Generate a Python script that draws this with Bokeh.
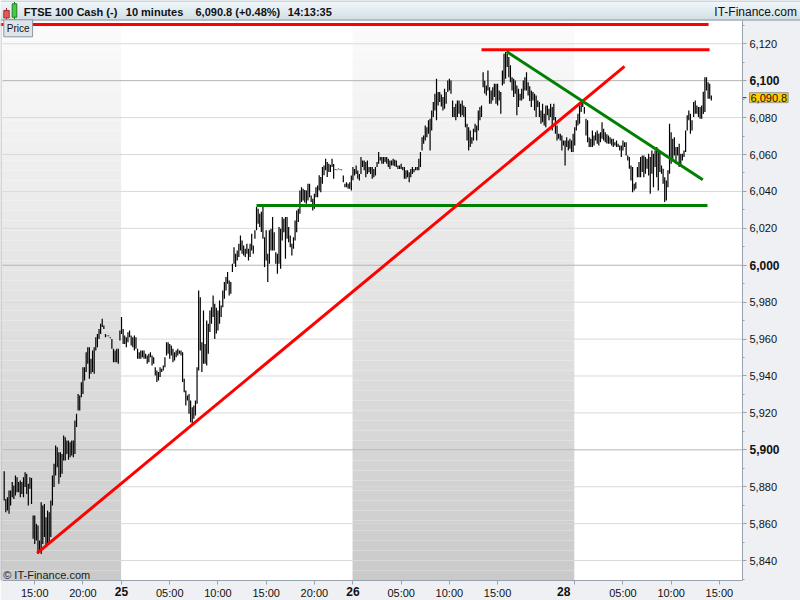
from bokeh.plotting import figure
from bokeh.models import (Range1d, FixedTicker, NumeralTickFormatter, Label, LinearAxis)
from bokeh.embed import file_html
from bokeh.resources import INLINE

# ---------------- data ----------------
instrument = "FTSE 100 Cash (-)"
interval_text = "10 minutes"
change_text = "6,090.8 (+0.48%)"
clock_text = "14:13:35"
last_close = 6090.8

day_labels = ["24", "25", "26", "28"]
day_bar_counts = [73, 144, 138, 86]
day_first_minute = [11 * 60 + 50, 0, 0, 0]
bar_minutes = 10
hour_ticks = [[15, 20], [5, 10, 15, 20], [5, 10, 15], [5, 10, 15]]
price_ticks = [5840, 5860, 5880, 5900, 5920, 5940, 5960, 5980, 6000, 6020, 6040, 6060,
               6080, 6100, 6120]
price_minor_ticks = [5830, 5850, 5870, 5890, 5910, 5930, 5950, 5970, 5990, 6010, 6030,
                     6050, 6070, 6090, 6110, 6130]
bold_price_levels = [5900, 6000, 6100]

high_d24 = [5888.4, 5873.4, 5874.3, 5877.9, 5877.9, 5882.5, 5880.7, 5886.1, 5885.2, 5882.5,
            5883.4, 5882.5, 5885.2, 5887.9, 5887.0, 5881.6, 5885.2, 5884.8, 5864.4, 5864.4,
            5859.9, 5859.0, 5850.9, 5871.6, 5869.8, 5870.7, 5863.5, 5867.1, 5866.2, 5872.5,
            5886.1, 5892.4, 5902.3, 5901.4, 5898.7, 5898.7, 5897.8, 5907.7, 5906.8, 5905.0,
            5905.0, 5904.1, 5905.0, 5905.0, 5915.9, 5919.5, 5930.3, 5929.4, 5936.6, 5944.8,
            5944.8, 5952.9, 5955.6, 5955.6, 5949.3, 5953.8, 5955.6, 5961.0, 5962.8, 5965.5,
            5968.3, 5971.0, 5967.4, 5962.8, 5962.0, 5962.0, 5961.0, 5960.1, 5954.7, 5953.8,
            5954.7, 5954.7, 5964.6]
low_d24 = [5872.5, 5866.2, 5867.1, 5865.3, 5869.8, 5874.3, 5873.4, 5875.2, 5877.0, 5877.0,
           5874.3, 5876.1, 5874.3, 5879.8, 5876.1, 5869.8, 5878.9, 5870.7, 5851.8, 5849.0,
           5850.9, 5843.6, 5845.4, 5843.6, 5849.0, 5852.7, 5847.2, 5849.0, 5849.0, 5852.7,
           5869.8, 5879.8, 5886.1, 5890.6, 5881.6, 5885.2, 5887.0, 5894.2, 5894.2, 5897.8,
           5894.6, 5896.0, 5896.9, 5896.0, 5897.8, 5912.3, 5921.3, 5921.3, 5928.5, 5930.3,
           5937.6, 5942.1, 5946.6, 5938.5, 5941.2, 5942.1, 5941.2, 5953.8, 5955.6, 5960.1,
           5962.8, 5966.5, 5965.5, 5961.0, 5961.5, 5961.5, 5960.5, 5954.7, 5947.5, 5947.5,
           5947.5, 5946.6, 5959.2]

high_d25 = [5971.9, 5965.5, 5961.9, 5961.0, 5963.7, 5964.6, 5961.9, 5961.0, 5961.9, 5961.0,
            5954.7, 5952.9, 5953.8, 5953.8, 5953.8, 5952.0, 5951.1, 5952.0, 5952.9, 5951.1,
            5950.2, 5944.8, 5943.0, 5942.1, 5944.8, 5943.9, 5945.7, 5950.2, 5958.3, 5958.3,
            5957.4, 5956.5, 5954.7, 5952.9, 5953.8, 5954.7, 5953.8, 5953.8, 5952.9, 5938.5,
            5932.1, 5929.4, 5930.3, 5926.7, 5923.1, 5924.0, 5926.7, 5944.8, 5986.3, 5982.7,
            5958.3, 5975.5, 5957.4, 5970.1, 5968.3, 5975.5, 5977.3, 5983.6, 5979.1, 5977.0,
            5975.5, 5980.9, 5978.2, 5986.3, 5990.9, 5993.6, 5996.3, 5991.8, 5990.9, 6000.8,
            6009.8, 6006.2, 6008.0, 6011.6, 6016.1, 6013.4, 6010.7, 6008.9, 6011.6, 6008.9,
            6011.6, 6017.0, 6010.7, 6018.9, 6031.5, 6030.6, 6027.9, 6029.0, 6032.4, 6015.2,
            6018.9, 6006.2, 6018.9, 6019.8, 6026.1, 6017.9, 6007.1, 6006.2, 6020.7, 6019.8,
            6026.1, 6025.2, 6026.1, 6026.1, 6020.7, 6016.1, 6011.6, 6015.2, 6024.3, 6029.7,
            6030.6, 6040.5, 6042.3, 6041.4, 6040.8, 6040.5, 6044.1, 6044.1, 6037.8, 6036.0,
            6038.7, 6042.3, 6043.2, 6048.7, 6047.8, 6053.2, 6054.1, 6057.7, 6055.9, 6055.0,
            6054.5, 6057.7, 6054.9, 6052.0, 6051.9, 6052.4, 6052.2, 6051.9, 6048.6, 6044.1,
            6045.0, 6044.1, 6045.0, 6048.6]
low_d25 = [5962.8, 5957.4, 5957.4, 5955.6, 5958.3, 5961.0, 5956.5, 5955.6, 5953.8, 5954.7,
           5949.3, 5949.3, 5949.3, 5950.2, 5949.3, 5949.3, 5946.6, 5947.5, 5950.2, 5945.7,
           5946.6, 5940.3, 5936.7, 5937.6, 5939.4, 5942.1, 5943.0, 5944.8, 5951.1, 5952.0,
           5949.3, 5951.1, 5947.5, 5948.4, 5950.2, 5951.1, 5952.0, 5951.1, 5936.7, 5931.2,
           5924.0, 5926.7, 5919.5, 5915.0, 5914.1, 5916.8, 5918.6, 5924.9, 5943.0, 5953.8,
           5942.1, 5946.6, 5946.6, 5945.7, 5952.0, 5963.8, 5968.3, 5971.9, 5960.1, 5963.0,
           5964.7, 5968.3, 5971.9, 5977.3, 5981.8, 5986.3, 5990.0, 5983.6, 5984.5, 5996.3,
           6000.8, 5999.0, 6002.6, 6004.4, 6008.0, 6006.2, 6005.3, 6004.4, 6006.2, 6002.6,
           6004.4, 6008.0, 6006.2, 6014.3, 6018.9, 6022.5, 6020.7, 6018.0, 6014.3, 5999.0,
           6002.6, 5990.9, 6000.8, 6008.0, 6008.0, 6008.0, 6000.8, 5995.4, 6000.8, 5998.1,
           6013.4, 6017.9, 6003.5, 6014.3, 6012.5, 6009.8, 6005.3, 6008.9, 6013.4, 6017.9,
           6023.4, 6027.9, 6034.2, 6035.1, 6034.0, 6033.3, 6035.1, 6036.9, 6034.2, 6029.7,
           6030.6, 6036.9, 6036.9, 6040.5, 6039.6, 6044.1, 6048.7, 6051.4, 6047.8, 6050.5,
           6050.5, 6053.2, 6046.8, 6051.6, 6051.5, 6052.0, 6051.8, 6051.5, 6045.0, 6042.3,
           6042.3, 6041.4, 6041.4, 6040.5]

high_d26 = [6053.2, 6052.2, 6054.0, 6051.3, 6049.5, 6058.6, 6056.8, 6056.8, 6055.9, 6056.8,
            6053.2, 6053.2, 6053.2, 6052.2, 6053.2, 6055.9, 6061.3, 6058.6, 6058.6, 6058.6,
            6058.6, 6058.6, 6057.7, 6056.8, 6056.8, 6057.7, 6057.2, 6056.8, 6054.1, 6054.1,
            6055.0, 6053.2, 6053.2, 6051.4, 6051.4, 6050.4, 6052.2, 6053.2, 6052.2, 6053.2,
            6053.2, 6057.7, 6061.3, 6069.4, 6070.3, 6075.7, 6074.8, 6078.5, 6079.4, 6083.9,
            6088.4, 6092.9, 6101.0, 6093.8, 6093.8, 6092.5, 6091.1, 6095.6, 6093.8, 6100.1,
            6101.0, 6100.1, 6089.3, 6085.7, 6087.5, 6089.3, 6089.3, 6087.5, 6089.3, 6086.6,
            6085.7, 6076.6, 6074.8, 6073.0, 6069.4, 6073.9, 6076.6, 6075.7, 6083.9, 6085.7,
            6086.6, 6104.6, 6100.0, 6097.4, 6105.5, 6096.5, 6094.7, 6096.5, 6098.3, 6098.3,
            6098.3, 6094.7, 6093.8, 6105.5, 6114.6, 6115.5, 6114.6, 6112.8, 6108.3, 6101.9,
            6101.0, 6100.1, 6097.4, 6095.6, 6092.9, 6095.6, 6100.1, 6101.9, 6104.6, 6099.2,
            6097.0, 6094.7, 6093.8, 6092.9, 6092.0, 6089.3, 6088.4, 6083.9, 6087.5, 6082.1,
            6086.6, 6086.6, 6084.8, 6087.5, 6085.7, 6087.5, 6080.3, 6075.7, 6071.2, 6071.2,
            6070.3, 6067.6, 6067.6, 6069.4, 6067.6, 6068.5, 6067.6, 6071.2]
low_d26 = [6046.0, 6048.6, 6049.5, 6046.8, 6045.9, 6049.5, 6053.2, 6051.4, 6047.7, 6049.5,
           6050.4, 6049.5, 6046.8, 6047.7, 6048.6, 6053.2, 6055.0, 6056.8, 6055.0, 6055.0,
           6055.9, 6055.0, 6053.2, 6052.2, 6054.1, 6054.1, 6053.6, 6053.2, 6052.2, 6052.2,
           6052.2, 6051.4, 6046.8, 6046.8, 6047.7, 6045.0, 6047.7, 6049.5, 6050.4, 6051.4,
           6051.4, 6051.4, 6053.2, 6062.2, 6065.8, 6067.6, 6069.4, 6071.2, 6062.2, 6073.0,
           6080.3, 6083.9, 6078.5, 6086.6, 6088.4, 6086.0, 6083.9, 6084.8, 6087.5, 6093.8,
           6094.7, 6092.9, 6080.3, 6080.3, 6078.5, 6080.3, 6082.1, 6080.3, 6081.2, 6080.3,
           6074.8, 6067.6, 6062.2, 6064.0, 6065.8, 6067.6, 6072.1, 6067.6, 6073.0, 6078.5,
           6080.3, 6096.5, 6093.0, 6092.0, 6094.7, 6087.5, 6087.5, 6089.3, 6091.1, 6087.5,
           6086.6, 6089.3, 6082.1, 6097.4, 6098.3, 6101.0, 6107.4, 6101.9, 6099.2, 6094.7,
           6091.1, 6092.9, 6081.2, 6085.7, 6089.3, 6089.3, 6090.2, 6094.7, 6094.7, 6092.0,
           6089.0, 6085.7, 6089.3, 6083.9, 6080.3, 6085.7, 6080.3, 6076.6, 6077.5, 6075.7,
           6074.8, 6081.2, 6078.5, 6080.3, 6073.0, 6078.5, 6071.2, 6067.6, 6068.5, 6067.6,
           6062.2, 6064.9, 6054.1, 6064.0, 6062.2, 6063.1, 6061.3, 6061.3]

high_d28 = [6074.8, 6078.5, 6082.1, 6086.6, 6089.3, 6088.4, 6085.7, 6079.4, 6078.5, 6069.4,
            6068.5, 6073.0, 6070.3, 6072.1, 6073.0, 6071.2, 6072.1, 6077.5, 6073.9, 6072.1,
            6071.0, 6070.3, 6069.4, 6068.5, 6068.5, 6066.7, 6067.6, 6065.8, 6064.9, 6064.9,
            6067.6, 6066.7, 6066.7, 6059.5, 6058.6, 6054.1, 6053.2, 6044.1, 6045.0, 6053.2,
            6056.0, 6058.6, 6059.5, 6059.5, 6058.6, 6057.7, 6060.4, 6058.6, 6062.2, 6060.4,
            6062.2, 6064.0, 6063.1, 6062.2, 6054.1, 6052.3, 6047.7, 6045.9, 6051.4, 6076.6,
            6072.0, 6068.5, 6069.4, 6064.0, 6064.0, 6065.8, 6060.4, 6060.4, 6062.2, 6073.0,
            6081.2, 6083.9, 6082.1, 6078.5, 6088.4, 6089.3, 6086.6, 6085.7, 6085.7, 6086.6,
            6094.0, 6101.9, 6101.9, 6099.2, 6098.3, 6092.0]
low_d28 = [6064.9, 6073.0, 6075.7, 6076.6, 6083.0, 6085.7, 6082.1, 6070.3, 6066.7, 6064.0,
           6064.0, 6064.0, 6064.9, 6067.6, 6065.8, 6064.9, 6066.7, 6068.5, 6067.6, 6066.7,
           6066.0, 6065.8, 6065.8, 6064.9, 6064.0, 6064.9, 6064.0, 6064.0, 6062.2, 6058.6,
           6062.2, 6064.0, 6059.5, 6056.8, 6052.3, 6045.9, 6039.6, 6040.5, 6041.4, 6047.7,
           6047.7, 6047.7, 6050.5, 6047.7, 6049.6, 6052.3, 6048.6, 6038.7, 6049.6, 6042.3,
           6053.2, 6047.7, 6040.5, 6050.5, 6049.6, 6044.1, 6034.2, 6035.1, 6042.3, 6049.6,
           6055.0, 6056.8, 6059.5, 6055.0, 6059.5, 6053.2, 6054.1, 6056.8, 6058.6, 6061.3,
           6073.0, 6078.5, 6071.2, 6073.0, 6080.3, 6082.1, 6082.1, 6080.3, 6079.4, 6079.4,
           6082.0, 6083.0, 6094.7, 6090.2, 6090.2, 6089.3]

# drawn trend lines: (bar index pair, price pair)
red_top_x, red_top_y = [-2.3, 438.3], [6130.5, 6130.5]
red_high_x, red_high_y = [297.0, 438.9], [6116.7, 6116.7]
red_diag_x, red_diag_y = [20.5, 386.0], [5844.0, 6107.7]
green_flat_x, green_flat_y = [157.0, 437.6], [6032.4, 6032.4]
green_diag_x, green_diag_y = [312.6, 434.7], [6115.8, 6046.3]

# ---------------- layout constants ----------------
W, H = 800, 600
AREA_L, AREA_R, AREA_T, AREA_B = 2, 742, 20, 580   # price area inside the page (px)
xs, xe = -1.06, 459.4        # bar-index window of the price area
ys, ye = 5829.2, 6132.6      # price window of the price area
sx = (AREA_R - AREA_L) / (xe - xs)
sy = (AREA_B - AREA_T) / (ye - ys)
X0, X1 = xs - AREA_L / sx, xe + (W - AREA_R) / sx
Y0, Y1 = ys - (H - AREA_B) / sy, ye + AREA_T / sy
FONT = "Liberation Sans"
AX_COL = "#98a3ad"
PANEL = "#eef0f3"
TXT = "#111111"


def xd(px):      # page px -> data x
    return X0 + px / sx


def yd(py):      # page py -> data y
    return Y1 - py / sy


def hexmix(c1, c2, t):
    a = [int(c1[i:i + 2], 16) for i in (1, 3, 5)]
    b = [int(c2[i:i + 2], 16) for i in (1, 3, 5)]
    return "#%02x%02x%02x" % tuple(int(round(a[k] + (b[k] - a[k]) * t)) for k in range(3))


highs = high_d24 + high_d25 + high_d26 + high_d28
lows = low_d24 + low_d25 + low_d26 + low_d28
idx = list(range(len(highs)))
day_start = [sum(day_bar_counts[:k]) for k in range(len(day_bar_counts))]

p = figure(width=W, height=H, x_range=Range1d(X0, X1), y_range=Range1d(Y0, Y1),
           output_backend="svg", toolbar_location=None, min_border=0,
           x_axis_location=None, y_axis_location=None, outline_line_color=None,
           background_fill_color="white", border_fill_color="white", title=None)
p.xgrid.visible = False
p.ygrid.visible = False

# alternate-day shading (vertical grey gradient)
ns = 56
for a, b in [(xs - 2, day_start[1] - 0.25), (day_start[2] - 0.25, day_start[3] - 0.25)]:
    tops = [ye - k * (ye - ys) / ns for k in range(ns)]
    bots = [ye - (k + 1) * (ye - ys) / ns for k in range(ns)]
    cols = [hexmix("#fbfbfb", "#cacaca", (k + 0.5) / ns) for k in range(ns)]
    r = p.quad(left=[a] * ns, right=[b] * ns, top=tops, bottom=bots, fill_color=cols,
               line_color=None)
    r.level = "image"

# horizontal grid lines at the price ticks (hundreds darker)
g = p.segment(x0=[xs] * len(price_ticks), x1=[xe] * len(price_ticks), y0=price_ticks,
              y1=price_ticks,
              line_color=["#b3b3b3" if v in bold_price_levels else "#d9d9d9" for v in price_ticks],
              line_width=1)
g.level = "underlay"

# OHLC bars (high-low)
p.segment(x0=idx, y0=lows, x1=idx, y1=highs, line_color="black", line_width=1.2)

# trend lines
for lx, ly, col in [(red_top_x, red_top_y, "#ff0000"), (red_high_x, red_high_y, "#ff0000"),
                    (green_flat_x, green_flat_y, "#008000"), (red_diag_x, red_diag_y, "#ff0000"),
                    (green_diag_x, green_diag_y, "#008000")]:
    p.line(lx, ly, line_color=col, line_width=3)

# axis panels (right + bottom) and left edge
p.quad(left=[xd(AREA_R), xd(0), xd(0)], right=[xd(W), xd(W), xd(1)],
       top=[yd(AREA_T), yd(AREA_B), yd(AREA_T)], bottom=[yd(H), yd(H), yd(AREA_B)],
       fill_color=[PANEL, PANEL, "#b4bdc5"], line_color=None)

# header bar (gradient, borders, icon, texts)
nh = AREA_T
p.quad(left=[xd(0)] * nh, right=[xd(W)] * nh, top=[yd(k) for k in range(nh)],
       bottom=[yd(k + 1) for k in range(nh)],
       fill_color=[hexmix("#eef8fc", "#c3d3dc", k / (nh - 1)) for k in range(nh)],
       line_color=None)
p.segment(x0=[xd(0), xd(0)], y0=[yd(0.5), yd(AREA_T - 0.5)], x1=[xd(W), xd(W)],
          y1=[yd(0.5), yd(AREA_T - 0.5)], line_color=["#aab4bc", "#8e99a3"], line_width=1)
p.segment(x0=[xd(6), xd(14)], y0=[yd(7.5), yd(1.5)], x1=[xd(6), xd(14)], y1=[yd(19), yd(19)],
          line_color=["#903030", "#207020"], line_width=1)
p.quad(left=[xd(3.3), xd(11.7)], right=[xd(8.7), xd(16.3)], top=[yd(10), yd(3.3)],
       bottom=[yd(17.3), yd(16.7)], fill_color=["#e85a55", "#44cc44"],
       line_color=["#a03030", "#208020"], line_width=1)
for txt, xpos in [(instrument, 23.3), (interval_text, 125.3), (change_text, 195.0),
                  (clock_text, 287.3)]:
    p.add_layout(Label(x=xd(xpos), y=yd(11.5), text=txt, text_font=FONT,
                       text_font_size="11px", text_font_style="bold", text_color=TXT,
                       text_baseline="middle", text_align="left"))
p.add_layout(Label(x=xd(796.5), y=yd(11.5), text="IT-Finance.com", text_font=FONT,
                   text_font_size="12px", text_color=TXT, text_baseline="middle",
                   text_align="right"))

# price axis (right)
yax = LinearAxis(fixed_location=xe, bounds=(ys, ye),
                 ticker=FixedTicker(ticks=price_ticks, minor_ticks=price_minor_ticks),
                 formatter=NumeralTickFormatter(format="0,0"))
yax.major_label_overrides = {float(v): "" for v in bold_price_levels}
yax.major_label_text_font = FONT
yax.major_label_text_font_size = "11px"
yax.major_label_text_color = TXT
yax.axis_line_color = AX_COL
yax.major_tick_line_color = AX_COL
yax.minor_tick_line_color = AX_COL
yax.major_tick_out = 4
yax.major_tick_in = 0
yax.minor_tick_out = 2
yax.minor_tick_in = 0
yax.major_label_standoff = 3
p.add_layout(yax, "right")
for lv in bold_price_levels:
    p.add_layout(Label(x=xe + 7 / sx, y=lv, text="{:,}".format(lv), text_font=FONT,
                       text_font_size="12px", text_font_style="bold", text_color=TXT,
                       text_baseline="middle", text_align="left"))

# time axis (bottom)
xt, over, day_ticks = [], {}, []
for d, lab in enumerate(day_labels):
    s = day_start[d]
    if day_first_minute[d] == 0:
        xt.append(s)
        over[s] = ""
        day_ticks.append((s, lab))
    for h in hour_ticks[d]:
        t = s + (h * 60 - day_first_minute[d]) // bar_minutes
        xt.append(t)
        over[t] = "%02d:00" % h
xax = LinearAxis(fixed_location=ys, bounds=(xs, xe), ticker=FixedTicker(ticks=xt, minor_ticks=[]))
xax.major_label_overrides = over
xax.major_label_text_font = FONT
xax.major_label_text_font_size = "11px"
xax.major_label_text_color = TXT
xax.axis_line_color = AX_COL
xax.major_tick_line_color = AX_COL
xax.major_tick_out = 4
xax.major_tick_in = 0
xax.major_label_standoff = 2
p.add_layout(xax, "below")
for s, lab in day_ticks:
    shift = -11 if lab == day_labels[-1] else 0
    p.add_layout(Label(x=s + shift / sx, y=ys - 6 / sy, text=lab, text_font=FONT,
                       text_font_size="12px", text_font_style="bold", text_color=TXT,
                       text_baseline="top", text_align="center"))

# captions inside the chart
p.add_layout(Label(x=xd(3.3), y=yd(27.8), text="Price", text_font=FONT, text_font_size="10px",
                   text_color=TXT, text_baseline="middle", text_align="left",
                   background_fill_color="#dde4ea", border_line_color="#8c97a2", padding=3))
p.add_layout(Label(x=xd(2.7), y=yd(574), text="\u00a9 IT-Finance.com", text_font=FONT,
                   text_font_size="11px", text_color="#1a1a1a", text_baseline="middle",
                   text_align="left"))

# last-price marker on the price axis
p.segment(x0=[xe], x1=[xe + 4 / sx], y0=[last_close], y1=[last_close], line_color="#333333",
          line_width=1)
p.add_layout(Label(x=xe + 7 / sx, y=last_close, text="{:,.1f}".format(last_close),
                   text_font=FONT, text_font_size="11px", text_color=TXT,
                   text_baseline="middle", text_align="left", background_fill_color="#ffcc00",
                   border_line_color="#9a9a9a", padding=1))

open("out.html", "w").write(file_html(p, INLINE))
